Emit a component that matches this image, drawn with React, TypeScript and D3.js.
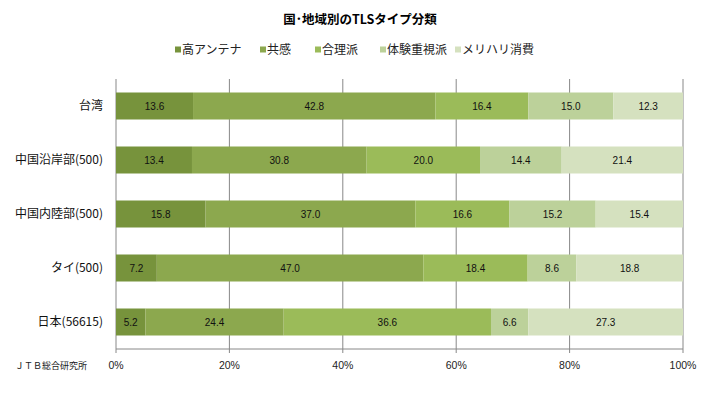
import React from 'react';
import * as d3 from 'd3';

// TLS type shares by country / region (%)
const categories = ['台湾', '中国沿岸部(500)', '中国内陸部(500)', 'タイ(500)', '日本(56615)'];
const seriesNames = ['高アンテナ', '共感', '合理派', '体験重視派', 'メリハリ消費'];
const highAntenna = [13.6, 13.4, 15.8, 7.2, 5.2];
const empathy = [42.8, 30.8, 37.0, 47.0, 24.4];
const rational = [16.4, 20.0, 16.6, 18.4, 36.6];
const experience = [15.0, 14.4, 15.2, 8.6, 6.6];
const meriHari = [12.3, 21.4, 15.4, 18.8, 27.3];
const tickLabels = ['0%', '20%', '40%', '60%', '80%', '100%'];

const colors = ['#77933c', '#8ca84e', '#9bbb59', '#bcd19a', '#d5e1bf'];
const jpFont = '"Noto Sans CJK JP", sans-serif';
const numFont = '"Liberation Sans", Arial, sans-serif';

export default function App() {
    const width = 716;
    const height = 395;
    const margin = { top: 79, left: 116, right: 33, bottom: 46 };
    const innerW = width - margin.left - margin.right;
    const innerH = height - margin.top - margin.bottom;

    const series = [highAntenna, empathy, rational, experience, meriHari];
    const rows = categories.map((c, i) => {
        const row: any = { category: c };
        seriesNames.forEach((s, j) => (row[s] = series[j][i]));
        return row;
    });

    // 100% stacked
    const stacked = d3.stack<any>()
        .keys(seriesNames)
        .offset(d3.stackOffsetExpand)(rows);

    const x = d3.scaleLinear().domain([0, 1]).range([0, innerW]);
    const y = d3.scaleBand()
        .domain(categories)
        .range([0, innerH])
        .paddingInner(0.5)
        .paddingOuter(0.25);

    const ticks = d3.range(0, 1.0001, 0.2);

    // legend item positions
    const legendX = [175, 260, 315, 380, 455];

    return (
        <div style={{ margin: -8 }}>
            <svg width={width} height={height} style={{ display: 'block', background: '#fff' }}>
                <text
                    x={360}
                    y={24}
                    textAnchor="middle"
                    style={{ fontFamily: jpFont, fontSize: '12.5px', fontWeight: 'bold' }}
                >
                    国･地域別のTLSタイプ分類
                </text>

                {seriesNames.map((s, i) => (
                    <g key={s} transform={`translate(${legendX[i]}, 50)`}>
                        <rect x={0} y={-3.5} width={6} height={6} fill={colors[i]} />
                        <text x={7} dy="0.36em" style={{ fontFamily: jpFont, fontSize: '12px' }} fill="#222">
                            {s}
                        </text>
                    </g>
                ))}

                <g transform={`translate(${margin.left}, ${margin.top})`}>
                    {ticks.map((t, i) => (
                        <g key={i} transform={`translate(${x(t)}, 0)`}>
                            <line y1={0} y2={innerH + 4} stroke="#888" strokeWidth={1} />
                            <text
                                y={innerH + 20}
                                textAnchor="middle"
                                style={{ fontFamily: numFont, fontSize: '10.5px' }}
                                fill="#222"
                            >
                                {tickLabels[i]}
                            </text>
                        </g>
                    ))}
                    <line x1={0} x2={innerW} y1={innerH} y2={innerH} stroke="#888" />

                    {stacked.map((layer, si) => (
                        <g key={layer.key} fill={colors[si]}>
                            {layer.map((d, i) => (
                                <rect
                                    key={i}
                                    x={x(d[0])}
                                    y={y(categories[i])}
                                    width={x(d[1]) - x(d[0])}
                                    height={y.bandwidth()}
                                />
                            ))}
                        </g>
                    ))}

                    {stacked.map((layer, si) =>
                        layer.map((d, i) => (
                            <text
                                key={`${si}-${i}`}
                                x={(x(d[0]) + x(d[1])) / 2}
                                y={(y(categories[i]) as number) + y.bandwidth() / 2}
                                dy="0.35em"
                                textAnchor="middle"
                                style={{ fontFamily: numFont, fontSize: '10px' }}
                                fill="#111"
                            >
                                {series[si][i].toFixed(1)}
                            </text>
                        ))
                    )}

                    {categories.map((c) => (
                        <text
                            key={c}
                            x={-13}
                            y={(y(c) as number) + y.bandwidth() / 2}
                            dy="0.36em"
                            textAnchor="end"
                            style={{ fontFamily: jpFont, fontSize: '12px' }}
                            fill="#111"
                        >
                            {c}
                        </text>
                    ))}
                </g>

                <text x={15} y={369} style={{ fontFamily: jpFont, fontSize: '9px' }} fill="#222">
                    ＪＴＢ総合研究所
                </text>
            </svg>
        </div>
    );
}
